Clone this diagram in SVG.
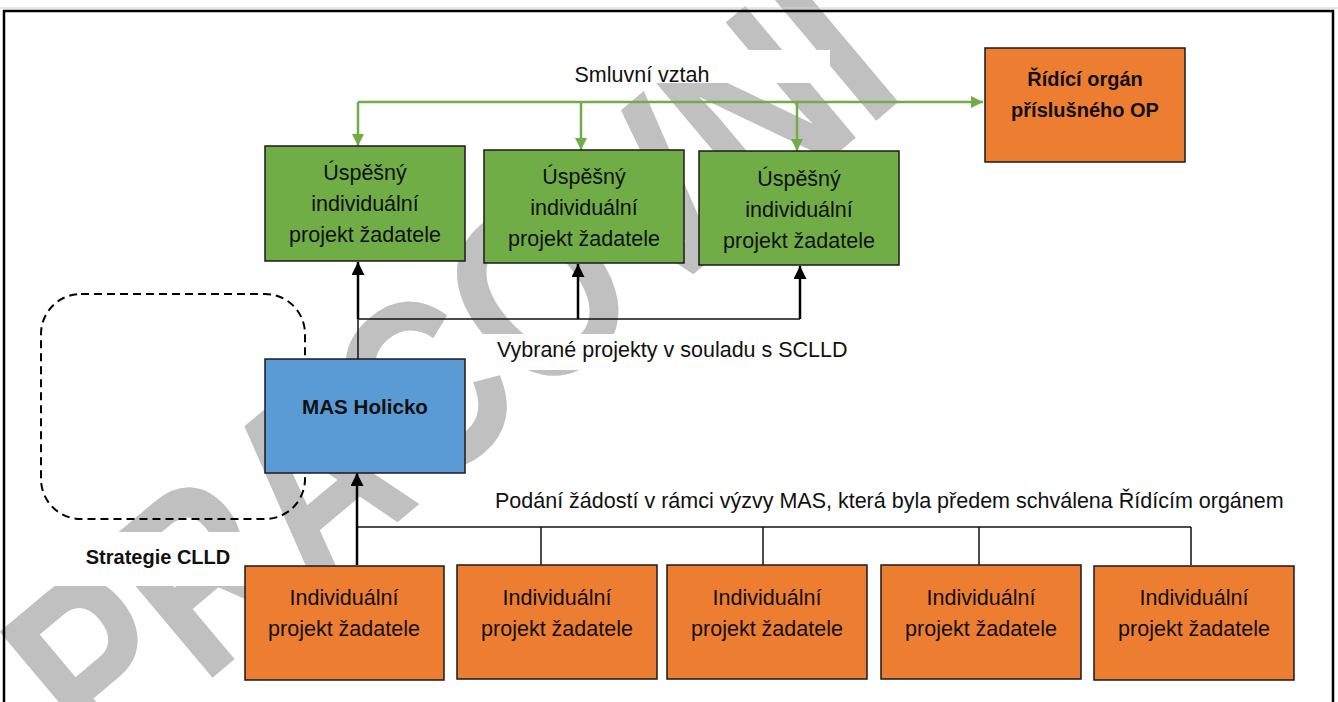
<svg xmlns="http://www.w3.org/2000/svg" width="1338" height="702" viewBox="0 0 1338 702">
  <defs>
    <style>
      .t { font-family: "Liberation Sans", Arial, sans-serif; font-size: 21.5px; fill: #111; text-anchor: middle; }
      .b { font-weight: bold; font-size: 20px; }
      .mb { font-size: 20.6px; }
      .l { text-anchor: start; }
      .box { stroke: #1a1a1a; stroke-width: 1.5; }
      .green { fill: #70AD47; }
      .orange { fill: #ED7D31; }
      .blue { fill: #5B9BD5; }
      .gline { stroke: #70AD47; stroke-width: 2.5; fill: none; }
      .thin { stroke: #111; stroke-width: 1.5; fill: none; }
      .thick { stroke: #000; stroke-width: 2.5; fill: none; }
      .wm { font-family: "Liberation Sans", Arial, sans-serif; font-size: 250px; font-weight: bold; fill: #c0c0c0; }
    </style>
    <marker id="ga" viewBox="0 0 10 10" refX="10" refY="5" markerWidth="13" markerHeight="12" markerUnits="userSpaceOnUse" orient="auto">
      <path d="M0,0 L10,5 L0,10 z" fill="#70AD47"/>
    </marker>
    <marker id="ba" viewBox="0 0 10 10" refX="10" refY="5" markerWidth="15" markerHeight="13" markerUnits="userSpaceOnUse" orient="auto">
      <path d="M0,0 L10,5 L0,10 z" fill="#000"/>
    </marker>
    <clipPath id="clipSm">
      <rect x="545" y="50" width="285" height="33"/>
    </clipPath>
  </defs>

  <rect x="0" y="0" width="1338" height="702" fill="#fff"/>

  <!-- watermark -->
  <g id="watermark">
    <text class="wm" x="0" y="0" transform="translate(100 772) rotate(-40) scale(0.8 1)">PRACOVNÍ</text>
  </g>

  <!-- white label backgrounds -->
  <rect x="545" y="50" width="285" height="33" fill="#fff"/>
  <rect x="20" y="532" width="225" height="54" fill="#fff"/>
  <rect x="478" y="334" width="380" height="36" fill="#fff"/>

  <!-- frame -->
  <line x1="0" y1="8" x2="1338" y2="8" stroke="#d0d0d0" stroke-width="1"/>
  <path d="M4,702 L4,11 L1333,11 L1333,702" fill="none" stroke="#000" stroke-width="2.5"/>

  <!-- dashed strategy boundary -->
  <g id="strategie">
    <rect x="41" y="294" width="264" height="225" rx="40" ry="40" fill="none" stroke="#000" stroke-width="2" stroke-dasharray="8,5"/>
    <text class="t b" x="158" y="564">Strategie CLLD</text>
  </g>

  <!-- connectors -->
  <g id="connectors">
    <path class="gline" d="M358,102 L983,102" marker-end="url(#ga)"/>
    <path class="gline" d="M358,102 L358,146" marker-end="url(#ga)"/>
    <path class="gline" d="M581,102 L581,150" marker-end="url(#ga)"/>
    <path class="gline" d="M797,102 L797,151" marker-end="url(#ga)"/>

    <path class="thin" d="M358,359 L358,319 L800,319"/>
    <path class="thick" d="M358,319 L358,262" marker-end="url(#ba)"/>
    <path class="thick" d="M578,319 L578,264" marker-end="url(#ba)"/>
    <path class="thick" d="M800,319 L800,266" marker-end="url(#ba)"/>

    <path class="thin" d="M357,527 L1191,527"/>
    <path class="thin" d="M541,527 L541,565"/>
    <path class="thin" d="M763,527 L763,565"/>
    <path class="thin" d="M979,527 L979,565"/>
    <path class="thin" d="M1191,527 L1191,565"/>
    <path class="thick" d="M357,565 L357,473" marker-end="url(#ba)"/>
  </g>

  <!-- connector labels -->
  <g id="labels">
    <text class="t" x="642" y="82" clip-path="url(#clipSm)">Smluvní vztah</text>
    <text class="t l" x="497" y="357">Vybrané projekty v souladu s SCLLD</text>
    <text class="t l" x="495" y="508">Podání žádostí v rámci výzvy MAS, která byla předem schválena Řídícím orgánem</text>
  </g>

  <!-- nodes -->
  <g id="ridici-organ">
    <rect class="box orange" x="985" y="48" width="200" height="114"/>
    <text class="t b" x="1085" y="86">Řídící orgán</text>
    <text class="t b" x="1085" y="117">příslušného OP</text>
  </g>

  <g id="uspesny-1">
    <rect class="box green" x="265" y="146" width="200" height="115"/>
    <text class="t" x="365" y="180">Úspěšný</text>
    <text class="t" x="365" y="211">individuální</text>
    <text class="t" x="365" y="242">projekt žadatele</text>
  </g>
  <g id="uspesny-2">
    <rect class="box green" x="484" y="150" width="200" height="113"/>
    <text class="t" x="584" y="184">Úspěšný</text>
    <text class="t" x="584" y="215">individuální</text>
    <text class="t" x="584" y="246">projekt žadatele</text>
  </g>
  <g id="uspesny-3">
    <rect class="box green" x="699" y="151" width="200" height="114"/>
    <text class="t" x="799" y="186">Úspěšný</text>
    <text class="t" x="799" y="217">individuální</text>
    <text class="t" x="799" y="248">projekt žadatele</text>
  </g>

  <g id="mas-holicko">
    <rect class="box blue" x="265" y="359" width="200" height="114"/>
    <text class="t b mb" x="365" y="414">MAS Holicko</text>
  </g>

  <g id="projekt-1">
    <rect class="box orange" x="245" y="566" width="199" height="114"/>
    <text class="t" x="344" y="605">Individuální</text>
    <text class="t" x="344" y="636">projekt žadatele</text>
  </g>
  <g id="projekt-2">
    <rect class="box orange" x="457" y="565" width="200" height="114"/>
    <text class="t" x="557" y="605">Individuální</text>
    <text class="t" x="557" y="636">projekt žadatele</text>
  </g>
  <g id="projekt-3">
    <rect class="box orange" x="667" y="565" width="200" height="114"/>
    <text class="t" x="767" y="605">Individuální</text>
    <text class="t" x="767" y="636">projekt žadatele</text>
  </g>
  <g id="projekt-4">
    <rect class="box orange" x="881" y="565" width="200" height="114"/>
    <text class="t" x="981" y="605">Individuální</text>
    <text class="t" x="981" y="636">projekt žadatele</text>
  </g>
  <g id="projekt-5">
    <rect class="box orange" x="1094" y="566" width="200" height="114"/>
    <text class="t" x="1194" y="605">Individuální</text>
    <text class="t" x="1194" y="636">projekt žadatele</text>
  </g>
</svg>
